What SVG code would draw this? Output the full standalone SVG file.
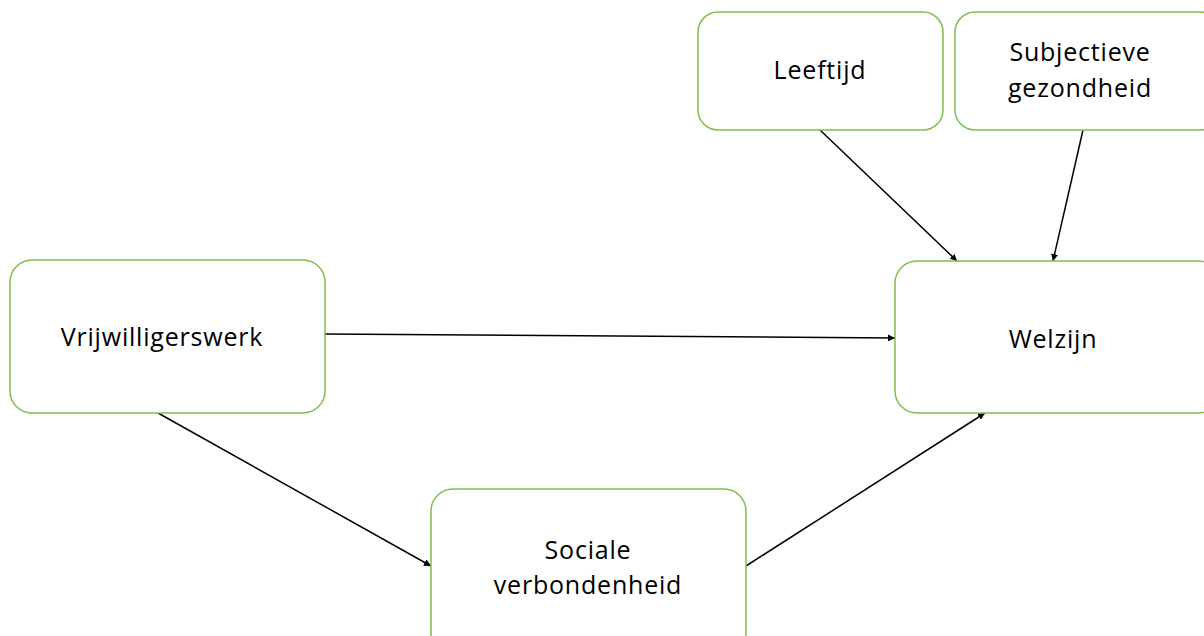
<svg xmlns="http://www.w3.org/2000/svg" width="1204" height="636" viewBox="0 0 1204 636">
<style>
.box{fill:#fff;stroke:#7fbf50;stroke-width:1.5}
.lbl{font-family:"Open Sans","Noto Sans",sans-serif;font-size:25px;letter-spacing:0.8px;fill:#000;text-anchor:middle}
.con{stroke:#000;stroke-width:1.5;fill:none;marker-end:url(#ah)}
</style>
<defs>
<marker id="ah" viewBox="0 0 10 10" refX="10" refY="5" markerWidth="7" markerHeight="7" markerUnits="userSpaceOnUse" orient="auto">
<path d="M0,0 L10,5 L0,10 z" fill="#000"/>
</marker>
</defs>
<rect width="1204" height="636" fill="#fff"/>
<g id="connectors">
<line class="con" x1="325" y1="334" x2="895" y2="338"/>
<line class="con" x1="820" y1="130" x2="957" y2="261"/>
<line class="con" x1="1083" y1="130" x2="1053" y2="261"/>
<line class="con" x1="158" y1="413" x2="431" y2="566"/>
<line class="con" x1="746" y1="566" x2="985" y2="413"/>
</g>
<g id="leeftijd">
<rect class="box" x="698" y="12" width="245" height="118" rx="20"/>
<text class="lbl" x="820" y="79">Leeftijd</text>
</g>
<g id="subjectieve">
<rect class="box" x="955" y="12" width="265" height="118" rx="20"/>
<text class="lbl" x="1080" y="61">Subjectieve</text>
<text class="lbl" x="1080" y="97">gezondheid</text>
</g>
<g id="vrijwilligerswerk">
<rect class="box" x="10" y="260" width="315" height="153" rx="22"/>
<text class="lbl" x="162" y="346">Vrijwilligerswerk</text>
</g>
<g id="welzijn">
<rect class="box" x="895" y="261" width="325" height="152" rx="22"/>
<text class="lbl" x="1053" y="348">Welzijn</text>
</g>
<g id="sociale">
<rect class="box" x="431" y="489" width="315" height="170" rx="22"/>
<text class="lbl" x="588" y="559">Sociale</text>
<text class="lbl" x="588" y="594">verbondenheid</text>
</g>
</svg>
